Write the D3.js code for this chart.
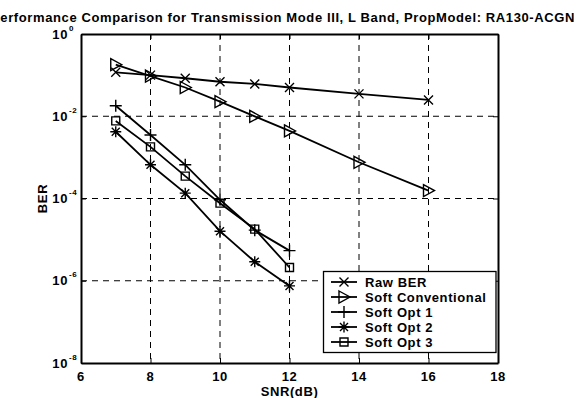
<!DOCTYPE html>
<html><head><meta charset="utf-8">
<script src="https://cdn.jsdelivr.net/npm/d3@7"></script>
<style>body{margin:0;background:#fff}svg{display:block}text{font-family:"Liberation Sans",Arial,sans-serif;font-weight:bold;fill:#000;letter-spacing:0.6px}</style>
</head><body><svg id="c" width="577" height="398"></svg>
<script>
const snrA = [7,8,9,10,11,12,14,16];
const snrB = [7,8,9,10,11,12];
const rawBER = [0.117,0.1,0.084,0.069,0.061,0.05,0.035,0.025];
const softConv = [0.18,0.095,0.05,0.0226,0.0099,0.0044,0.00076,0.000156];
const softOpt1 = [0.018,0.0035,0.00066,0.000093,0.000017,0.0000054];
const softOpt2 = [0.0042,0.00066,0.000135,0.000016,0.0000029,0.00000075];
const softOpt3 = [0.0077,0.0018,0.00035,0.000077,0.000018,0.0000021];
const seriesNames = ["Raw BER","Soft Conventional","Soft Opt 1","Soft Opt 2","Soft Opt 3"];
const xTicks = [6,8,10,12,14,16,18];
const yTicks = [1,1e-2,1e-4,1e-6,1e-8];
const yExp = ["0","-2","-4","-6","-8"];
const titleText = "Performance Comparison for Transmission Mode III, L Band, PropModel: RA130-ACGN";

const series = [
  {name:seriesNames[0], x:snrA, y:rawBER, m:"x"},
  {name:seriesNames[1], x:snrA, y:softConv, m:"tri"},
  {name:seriesNames[2], x:snrB, y:softOpt1, m:"plus"},
  {name:seriesNames[3], x:snrB, y:softOpt2, m:"star"},
  {name:seriesNames[4], x:snrB, y:softOpt3, m:"sq"}
];

const L=81,R=498,T=34,B=363;
const x = d3.scaleLinear().domain([6,18]).range([L,R]);
const y = d3.scaleLog().domain([1e-8,1]).range([B,T]);
const svg = d3.select("#c");

// grid
const g = svg.append("g");
g.selectAll(".vg").data(xTicks.slice(1,-1)).enter().append("line")
 .attr("x1",d=>x(d)).attr("x2",d=>x(d)).attr("y1",T).attr("y2",B)
 .attr("stroke","#000").attr("stroke-width",1).attr("stroke-dasharray","6,5");
g.selectAll(".hg").data(yTicks.slice(1,-1)).enter().append("line")
 .attr("y1",d=>y(d)).attr("y2",d=>y(d)).attr("x1",L).attr("x2",R)
 .attr("stroke","#000").attr("stroke-width",1).attr("stroke-dasharray","6,5");

// axes (inward ticks)
const ax = (gen, tr)=>{const a=svg.append("g").attr("transform",tr).call(gen);a.selectAll("path").attr("stroke","#000").attr("stroke-width",2);a.selectAll("line").attr("stroke","#000");a.selectAll("text").remove();return a;};
ax(d3.axisBottom(x).tickValues(xTicks).tickSize(-5).tickSizeOuter(0),`translate(0,${B})`);
ax(d3.axisTop(x).tickValues(xTicks).tickSize(-5).tickSizeOuter(0),`translate(0,${T})`);
ax(d3.axisLeft(y).tickValues(yTicks).tickSize(-5).tickSizeOuter(0),`translate(${L},0)`);
ax(d3.axisRight(y).tickValues(yTicks).tickSize(-5).tickSizeOuter(0),`translate(${R},0)`);

// tick labels
svg.selectAll(".xl").data(xTicks).enter().append("text")
 .attr("x",d=>x(d)).attr("y",B+18).attr("text-anchor","middle").attr("font-size",13).text(d=>d);
yTicks.forEach((v,i)=>{
  svg.append("text").attr("x",68).attr("y",y(v)+4.5).attr("text-anchor","end").attr("font-size",13).text("10");
  svg.append("text").attr("x",69).attr("y",y(v)-3.5).attr("font-size",8).text(yExp[i]);
});

// labels
svg.append("text").attr("x",(L+R)/2).attr("y",396).attr("text-anchor","middle").attr("font-size",13).text("SNR(dB)");
svg.append("text").attr("transform",`translate(47,${(T+B)/2}) rotate(-90)`).attr("text-anchor","middle").attr("font-size",13).text("BER");
svg.append("text").attr("x",575).attr("y",22).attr("text-anchor","end").attr("font-size",13)
 .attr("textLength",584).attr("lengthAdjust","spacing").text(titleText);

// markers
function marker(sel, m, cx, cy){
  const p = sel.append("path").attr("fill","none").attr("stroke","#000").attr("stroke-width",1.4);
  let d="";
  if(m==="x"){const s=4.5;d=`M${cx-s},${cy-s}L${cx+s},${cy+s}M${cx-s},${cy+s}L${cx+s},${cy-s}`;}
  if(m==="plus"){const s=6;d=`M${cx-s},${cy}L${cx+s},${cy}M${cx},${cy-s}L${cx},${cy+s}`;}
  if(m==="star"){const s=5.5,t=4;d=`M${cx-s},${cy}L${cx+s},${cy}M${cx},${cy-s}L${cx},${cy+s}M${cx-t},${cy-t}L${cx+t},${cy+t}M${cx-t},${cy+t}L${cx+t},${cy-t}`;}
  if(m==="sq"){const s=4;d=`M${cx-s},${cy-s}h${2*s}v${2*s}h${-2*s}Z`;}
  if(m==="tri"){const s=6;d=`M${cx-s+1},${cy-s}L${cx+s},${cy}L${cx-s+1},${cy+s}Z`;}
  p.attr("d",d);
}
const line = d3.line().x(d=>x(d[0])).y(d=>y(d[1]));
series.forEach(s=>{
  const pts = s.x.map((v,i)=>[v,s.y[i]]);
  svg.append("path").datum(pts).attr("d",line).attr("fill","none").attr("stroke","#000").attr("stroke-width",1.8);
  const mg = svg.append("g");
  pts.forEach(p=>marker(mg,s.m,x(p[0]),y(p[1])));
});

// legend
const lg = svg.append("g");
lg.append("rect").attr("x",323.5).attr("y",271.5).attr("width",172.5).attr("height",81).attr("fill","#fff").attr("stroke","#000").attr("stroke-width",1.3);
series.forEach((s,i)=>{
  const yy = 282+i*15;
  lg.append("line").attr("x1",331).attr("x2",357).attr("y1",yy).attr("y2",yy).attr("stroke","#000").attr("stroke-width",1.8);
  marker(lg,s.m,344,yy);
  lg.append("text").attr("x",365).attr("y",yy+4.5).attr("font-size",13).text(s.name);
});
</script></body></html>
